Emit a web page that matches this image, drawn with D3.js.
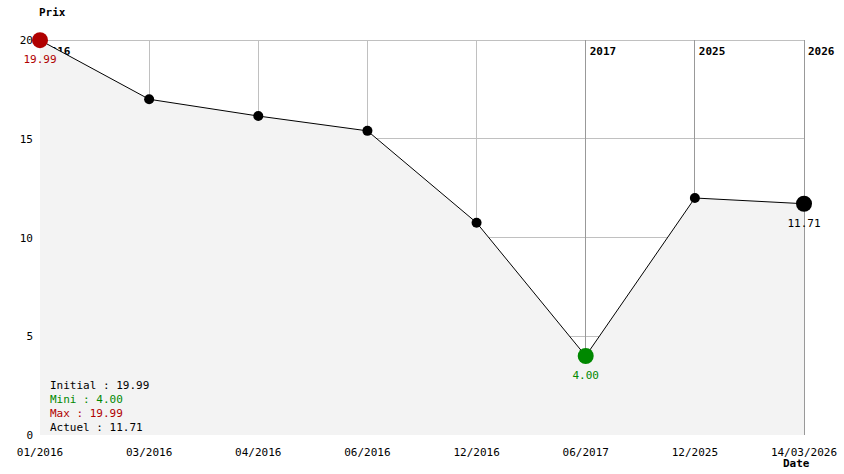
<!DOCTYPE html>
<html><head><meta charset="utf-8">
<script src="https://cdn.jsdelivr.net/npm/d3@7"></script>
<style>body{margin:0;background:#fff}svg{display:block}text{font-family:"DejaVu Sans Mono",monospace}</style>
</head><body><svg id="c" width="844" height="474"></svg>
<script>
const dates = ["01/2016","03/2016","04/2016","06/2016","12/2016","06/2017","12/2025","14/03/2026"];
const prices = [19.99, 17.0, 16.15, 15.4, 10.75, 4.00, 12.0, 11.71];
const yearMarks = [{i:0,label:"2016"},{i:5,label:"2017"},{i:6,label:"2025"},{i:7,label:"2026"}];
const yTicks = [0,5,10,15,20];
const legend = [{t:"Initial : 19.99",c:"#000"},{t:"Mini : 4.00",c:"#008800"},{t:"Max : 19.99",c:"#b00000"},{t:"Actuel : 11.71",c:"#000"}];

const svg = d3.select("#c");
const x = d3.scalePoint().domain(d3.range(dates.length)).range([40,804]);
const y = d3.scaleLinear().domain([0,20]).range([435,40]);

// grid
svg.append("g").selectAll("line").data(yTicks.filter(d=>d>0)).join("line")
  .attr("x1",40).attr("x2",804).attr("y1",d=>y(d)).attr("y2",d=>y(d))
  .attr("stroke","#c0c0c0").attr("shape-rendering","crispEdges");
const yearIdx = yearMarks.map(d=>d.i);
svg.append("g").selectAll("line").data(d3.range(dates.length)).join("line")
  .attr("x1",d=>x(d)).attr("x2",d=>x(d)).attr("y1",40).attr("y2",435)
  .attr("stroke",d=>yearIdx.includes(d)?"#999":"#c0c0c0").attr("shape-rendering","crispEdges");

// year labels (drawn beneath the area fill)
svg.append("g").selectAll("text").data(yearMarks).join("text")
  .attr("x",d=>x(d.i)+4).attr("y",55).text(d=>d.label)
  .attr("font-size",11).attr("font-weight","bold");

// area
const area = d3.area().x((d,i)=>x(i)).y0(435).y1(d=>y(d));
svg.append("path").datum(prices).attr("d",area).attr("fill","#f3f3f3");

// line
const line = d3.line().x((d,i)=>x(i)).y(d=>y(d));
svg.append("path").datum(prices).attr("d",line).attr("fill","none").attr("stroke","#000").attr("stroke-width",1);

// axes labels
svg.append("g").selectAll("text").data(yTicks).join("text")
  .attr("x",33).attr("y",d=>y(d)+4).attr("text-anchor","end").attr("font-size",11).text(d=>d);
svg.append("g").selectAll("text").data(dates).join("text")
  .attr("x",(d,i)=>x(i)).attr("y",456).attr("text-anchor","middle").attr("font-size",11).text(d=>d);
svg.append("text").attr("x",39).attr("y",16).attr("font-size",11).attr("font-weight","bold").text("Prix");
svg.append("text").attr("x",783).attr("y",467).attr("font-size",11).attr("font-weight","bold").text("Date");

// points
const maxV = d3.max(prices), minV = d3.min(prices), last = prices.length-1;
const iMax = prices.indexOf(maxV), iMin = prices.indexOf(minV);
svg.append("g").selectAll("circle").data(prices).join("circle")
  .attr("cx",(d,i)=>x(i)).attr("cy",d=>y(d))
  .attr("r",(d,i)=>(i===iMax||i===iMin||i===last)?8:5)
  .attr("fill",(d,i)=>i===iMax?"#b00000":i===iMin?"#008800":"#000");
const vl = [{i:iMax,c:"#b00000"},{i:iMin,c:"#008800"},{i:last,c:"#000"}];
svg.append("g").selectAll("text").data(vl).join("text")
  .attr("x",d=>x(d.i)).attr("y",d=>y(prices[d.i])+23).attr("text-anchor","middle")
  .attr("font-size",11).attr("fill",d=>d.c).text(d=>prices[d.i].toFixed(2));

// legend
svg.append("g").selectAll("text").data(legend).join("text")
  .attr("x",50).attr("y",(d,i)=>389+i*14).attr("font-size",11).attr("fill",d=>d.c).text(d=>d.t);
</script></body></html>
